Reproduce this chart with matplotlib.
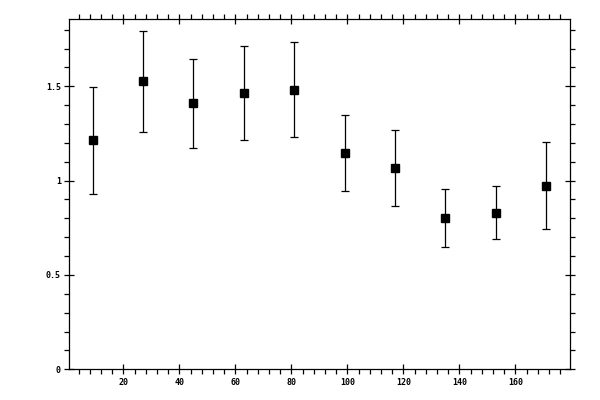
import matplotlib
matplotlib.use('Agg')
import matplotlib.pyplot as plt
from matplotlib.ticker import MultipleLocator, FixedLocator

x_vals = [9, 27, 45, 63, 81, 99, 117, 135, 153, 171]
y_vals = [1.214, 1.526, 1.410, 1.463, 1.479, 1.145, 1.065, 0.800, 0.827, 0.970]
y_hi = [1.498, 1.794, 1.646, 1.712, 1.733, 1.346, 1.267, 0.954, 0.970, 1.203]
y_lo = [0.927, 1.256, 1.171, 1.214, 1.229, 0.945, 0.864, 0.647, 0.689, 0.742]

x_ticks = [20, 40, 60, 80, 100, 120, 140, 160]
y_ticks = [0, 0.5, 1, 1.5]
y_tick_labels = ['0', '0.5', '1', '1.5']


def main():
    fig = plt.figure(figsize=(6, 4), dpi=100)
    ax = fig.add_axes([0.1155, 0.0768, 0.835, 0.875])

    err_lo = [y - lo for y, lo in zip(y_vals, y_lo)]
    err_hi = [hi - y for y, hi in zip(y_vals, y_hi)]
    ax.errorbar(x_vals, y_vals, yerr=[err_lo, err_hi], fmt='s', color='black',
                ecolor='black', markersize=5.8, elinewidth=0.9, capsize=2.9,
                capthick=0.9)

    ax.set_xlim(0.7, 179.6)
    ax.set_ylim(0, 1.855)

    ax.xaxis.set_major_locator(FixedLocator(x_ticks))
    ax.xaxis.set_minor_locator(MultipleLocator(4))
    ax.yaxis.set_major_locator(FixedLocator(y_ticks))
    ax.yaxis.set_minor_locator(MultipleLocator(0.1))
    ax.set_yticklabels(y_tick_labels)

    for s in ax.spines.values():
        s.set_linewidth(0.9)

    ax.tick_params(which='both', top=True, right=True, labelsize=6,
                   width=0.9, colors='black')
    ax.tick_params(which='major', direction='inout', length=7, pad=2.5)
    ax.tick_params(which='minor', direction='out', length=3.5)
    for lab in ax.get_xticklabels() + ax.get_yticklabels():
        lab.set_family('DejaVu Sans Mono')
        lab.set_fontweight('bold')

    fig.savefig('out.png', dpi=100)


if __name__ == '__main__':
    main()
